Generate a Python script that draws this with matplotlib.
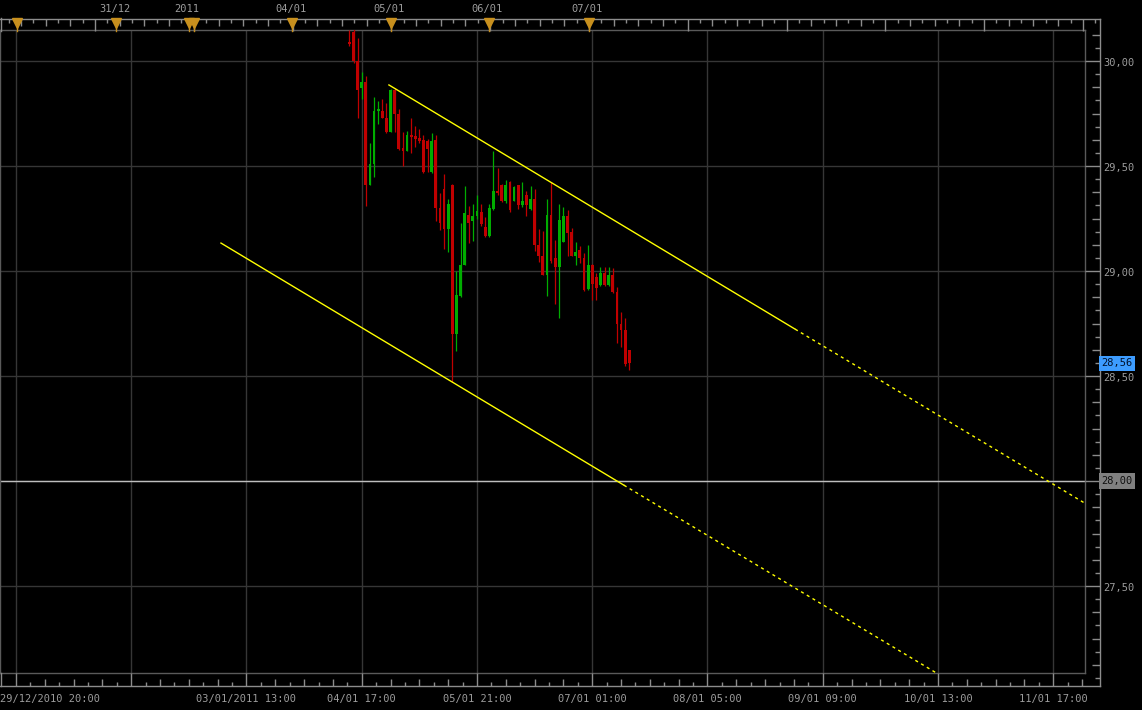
import numpy as np
import matplotlib
matplotlib.use("Agg")
import matplotlib.pyplot as plt
import matplotlib.transforms as mtransforms
from matplotlib.collections import LineCollection
from matplotlib.lines import Line2D

# ---------------- data ----------------
# hourly candles, x = trading hours since 29/12/2010 20:00
candle_hours = np.arange(81, 150)
opens = [30.09, 30.14, 30.00, 29.87, 29.90, 29.41, 29.51, 29.76, 29.76, 29.73,
         29.66, 29.86, 29.75, 29.585, 29.57, 29.65, 29.645, 29.635, 29.625, 29.62,
         29.47, 29.625, 29.30, 29.39, 29.20, 29.41, 28.70, 28.88, 29.03, 29.265,
         29.24, 29.26, 29.28, 29.21, 29.165, 29.295, 29.38, 29.41, 29.335, 29.425,
         29.335, 29.41, 29.315, 29.36, 29.295, 29.345, 29.125, 29.07, 28.98, 29.265,
         29.06, 29.02, 29.14, 29.26, 29.185, 29.07, 29.10, 29.06, 28.915, 29.03,
         28.97, 28.935, 28.99, 28.935, 28.98, 28.90, 28.75, 28.72, 28.625]
highs = [30.15, 30.16, 30.11, 29.95, 29.93, 29.61, 29.83, 29.81, 29.82, 29.80,
         29.865, 29.87, 29.77, 29.66, 29.665, 29.73, 29.69, 29.675, 29.65, 29.63,
         29.655, 29.65, 29.37, 29.46, 29.345, 29.415, 29.00, 29.23, 29.405, 29.31,
         29.32, 29.36, 29.32, 29.255, 29.32, 29.57, 29.49, 29.415, 29.435, 29.43,
         29.405, 29.41, 29.425, 29.38, 29.405, 29.39, 29.20, 29.19, 29.345, 29.425,
         29.15, 29.32, 29.305, 29.29, 29.205, 29.14, 29.12, 29.085, 29.125, 29.035,
         28.99, 29.02, 29.02, 29.02, 29.015, 28.925, 28.805, 28.775, 28.625]
lows = [30.07, 29.99, 29.73, 29.82, 29.31, 29.41, 29.45, 29.70, 29.73, 29.655,
        29.66, 29.66, 29.575, 29.50, 29.57, 29.56, 29.59, 29.61, 29.465, 29.47,
        29.465, 29.24, 29.195, 29.105, 29.09, 28.47, 28.62, 28.875, 29.03, 29.135,
        29.145, 29.25, 29.215, 29.16, 29.16, 29.29, 29.36, 29.33, 29.325, 29.28,
        29.335, 29.295, 29.305, 29.26, 29.29, 29.095, 29.045, 28.98, 28.88, 29.04,
        28.845, 28.775, 29.14, 29.07, 29.07, 29.03, 29.04, 28.905, 28.91, 28.86,
        28.86, 28.93, 28.93, 28.93, 28.895, 28.655, 28.64, 28.55, 28.53]
closes = [30.08, 30.00, 29.86, 29.90, 29.41, 29.51, 29.76, 29.77, 29.73, 29.66,
          29.86, 29.75, 29.58, 29.57, 29.65, 29.64, 29.63, 29.62, 29.47, 29.58,
          29.62, 29.30, 29.23, 29.20, 29.32, 28.70, 28.885, 29.03, 29.275, 29.23,
          29.26, 29.285, 29.225, 29.165, 29.30, 29.38, 29.37, 29.335, 29.41, 29.29,
          29.40, 29.315, 29.335, 29.315, 29.345, 29.125, 29.07, 28.98, 29.265, 29.05,
          29.02, 29.245, 29.26, 29.18, 29.07, 29.09, 29.06, 28.91, 29.03, 28.94,
          28.92, 28.99, 28.935, 28.98, 28.90, 28.75, 28.72, 28.555, 28.56]

x_grid = [0, 28, 56, 84, 112, 140, 168, 196, 224, 252]
x_labels = ['29/12/2010 20:00', '', '03/01/2011 13:00', '04/01 17:00', '05/01 21:00',
            '07/01 01:00', '08/01 05:00', '09/01 09:00', '10/01 13:00', '11/01 17:00']
y_grid = [27.5, 28.0, 28.5, 29.0, 29.5, 30.0]
y_labels = ['27,50', '28,00', '28,50', '29,00', '29,50', '30,00']
day_marks = [0.24, 24.3, 42.0, 43.2, 67.1, 91.1, 114.9, 139.2]
top_label_pos = [24.0, 41.5, 66.7, 90.6, 114.5, 138.7]
top_labels = ['31/12', '2011', '04/01', '05/01', '06/01', '07/01']
support_level = 28.00
last_price = 28.56
# trend channel: start, end of drawn segment, extension
upper_x = [90.6, 189.3, 259.7]
upper_y = [29.886, 28.723, 27.894]
lower_x = [49.8, 147.7, 223.6]
lower_y = [29.133, 27.980, 27.086]

# ---------------- layout ----------------
W, H = 1142, 710
PXH = 4.116      # pixels per hour
X0PX = 16        # pixel of x = 0
def fx(px): return px / W
def fy(py): return 1 - py / H
def ypx(v): return 61 + (30 - v) * 210

BG = 'black'
GRID = '#363636'
RULER = '#8c8c8c'
FRAME = '#5a5a5a'
TXT = '#9c9c9c'
FONT = 'DejaVu Sans Mono'
FS = 7.5

fig = plt.figure(figsize=(W / 100, H / 100), dpi=100, facecolor=BG)
ax = fig.add_axes([fx(0), fy(673), fx(1085), (673 - 30) / H])
ax.set_facecolor(BG)
ax.set_xlim(-X0PX / PXH, (1085 - X0PX) / PXH)
ax.set_ylim(30 - (673 - 61) / 210, 30 + (61 - 30) / 210)
ax.set_xticks([]); ax.set_yticks([])
for s in ax.spines.values():
    s.set_color(FRAME); s.set_linewidth(1)

# grid
ax.vlines(x_grid, *ax.get_ylim(), colors=GRID, lw=1, zorder=0)
ax.hlines(y_grid, *ax.get_xlim(), colors=GRID, lw=1, zorder=0)
ax.axhline(support_level, color='#bdbdbd', lw=1, zorder=1)

# candles
o = np.array(opens); c = np.array(closes)
cols = np.where(c >= o, '#00ad00', '#c00000')
ax.vlines(candle_hours, lows, highs, colors=cols, lw=0.9, zorder=3)
bot = np.minimum(o, c)
hgt = np.maximum(np.abs(c - o), 0.005)
ax.bar(candle_hours, hgt, bottom=bot, width=0.68, color=cols, linewidth=0, zorder=3)

# channel
for xs, ys in ((upper_x, upper_y), (lower_x, lower_y)):
    ax.plot(xs[:2], ys[:2], color='#ffff00', lw=1, zorder=4)
    ax.plot(xs[1:], ys[1:], color='#ffff00', lw=1, ls=(0, (2.2, 2.6)), zorder=4)

# ---------------- rulers ----------------
bx = mtransforms.blended_transform_factory(ax.transData, fig.transFigure)
by = mtransforms.blended_transform_factory(fig.transFigure, ax.transData)

def fline(xs, ys, color=RULER, lw=1):
    fig.add_artist(Line2D([fx(v) for v in xs], [fy(v) for v in ys],
                          transform=fig.transFigure, color=color, lw=lw))

fline([0, 1099.5], [18.5, 18.5])
fline([1099.5, 1099.5], [18.5, 686])
fline([0, 1099.5], [685.5, 685.5])
fline([0.5, 0.5], [673, 686])
fline([0.5, 0.5], [18, 31])

xmax_r = (1099 - X0PX) / PXH
# top ruler ticks every 3h
segs = []
k0 = -int((139.2 + 3.9) // 3)
for k in range(k0, 200):
    x = 139.2 + 3 * k
    if x < -3.9 or x > xmax_r:
        continue
    L = 12 if k % 8 == 0 else (7 if k % 2 == 0 else 4)
    segs.append([(x, fy(18.5)), (x, fy(18.5 + L))])
fig.add_artist(LineCollection(segs, colors=RULER, linewidths=1, transform=bx))

# bottom ruler ticks every 3.5h
segs = []
for k in range(0, 80):
    x = 3.5 * k
    if x > (1085 - X0PX) / PXH:
        continue
    if k % 8 == 0:
        segs.append([(x, fy(673)), (x, fy(685.5))])
    else:
        L = 7 if k % 2 == 0 else 4
        segs.append([(x, fy(685.5 - L)), (x, fy(685.5))])
fig.add_artist(LineCollection(segs, colors=RULER, linewidths=1, transform=bx))

# right ruler ticks every 1/16
segs = []
for k in range(0, 60):
    v = 27.0625 + 0.0625 * k
    if v > 30.14:
        break
    if abs(v * 2 - round(v * 2)) < 1e-6:
        x1 = 1085
    elif abs(v * 8 - round(v * 8)) < 1e-6:
        x1 = 1091.5
    else:
        x1 = 1094.5
    segs.append([(fx(x1), v), (fx(1099.5), v)])
fig.add_artist(LineCollection(segs, colors=RULER, linewidths=1, transform=by))

# day markers (top)
for d in day_marks:
    fig.add_artist(Line2D([d, d], [fy(19), fy(31)], transform=bx, color='#c8901e', lw=1))
    fig.add_artist(Line2D([d], [fy(22.5)], transform=bx, marker='v', ms=7.5,
                          color='#c8901e', mec='#c8901e', ls='none'))
for p, t in zip(top_label_pos, top_labels):
    fig.text(p, fy(9), t, transform=bx, ha='center', va='center',
             color=TXT, fontsize=FS, family=FONT)

# bottom labels
for i, (p, t) in enumerate(zip(x_grid, x_labels)):
    if not t:
        continue
    if i == 0:
        fig.text(fx(0), fy(699), t, ha='left', va='center', color=TXT,
                 fontsize=FS, family=FONT)
    else:
        fig.text(p, fy(699), t, transform=bx, ha='center', va='center',
                 color=TXT, fontsize=FS, family=FONT)

# right labels
for v, t in zip(y_grid, y_labels):
    if v == support_level:
        fig.text(fx(1101.5), v, t, transform=by, ha='left', va='center',
                 color='#101010', fontsize=FS, family=FONT,
                 bbox=dict(boxstyle='square,pad=0.25', fc='#808080', ec='none'))
    else:
        fig.text(fx(1103), v - 0.01, t, transform=by, ha='left', va='center',
                 color=TXT, fontsize=FS, family=FONT)
fig.text(fx(1101.5), last_price, f"{last_price:.2f}".replace('.', ','), transform=by,
         ha='left', va='center', color='#00102a', fontsize=FS, family=FONT,
         bbox=dict(boxstyle='square,pad=0.25', fc='#3d9cff', ec='none'))

fig.savefig('out.png', dpi=100, facecolor=BG)
